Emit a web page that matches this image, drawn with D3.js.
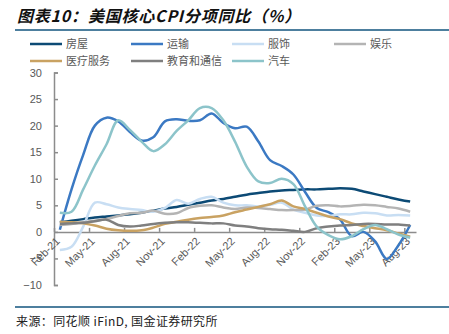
<!DOCTYPE html>
<html>
<head>
<meta charset="utf-8">
<script src="https://cdn.jsdelivr.net/npm/d3@7"></script>
<style>
  body { margin: 0; background: #fff; }
  svg { display: block; }
  text { font-family: "Liberation Sans", Arial, "Noto Sans CJK SC", sans-serif; }
</style>
</head>
<body>
<svg width="449" height="334"></svg>
<script>
// months Feb-21 .. Aug-23
var months = ['Feb-21', 'Mar-21', 'Apr-21', 'May-21', 'Jun-21', 'Jul-21', 'Aug-21', 'Sep-21', 'Oct-21', 'Nov-21',
  'Dec-21', 'Jan-22', 'Feb-22', 'Mar-22', 'Apr-22', 'May-22', 'Jun-22', 'Jul-22', 'Aug-22', 'Sep-22',
  'Oct-22', 'Nov-22', 'Dec-22', 'Jan-23', 'Feb-23', 'Mar-23', 'Apr-23', 'May-23', 'Jun-23', 'Jul-23', 'Aug-23']

var housing = [1.8, 2.1, 2.4, 2.7, 2.9, 3.1, 3.3, 3.6, 4.0, 4.4, 4.7, 5.1, 5.5, 5.9, 6.2, 6.6, 7.0, 7.3, 7.6, 7.8,
  7.9, 8.0, 8.0, 8.1, 8.2, 8.1, 7.6, 7.1, 6.6, 6.1, 5.7]
var transport = [0.4, 8.0, 14.5, 20.0, 21.5, 20.8, 18.8, 17.2, 17.8, 20.8, 21.2, 20.9, 21.0, 22.3, 20.5, 19.5, 19.8, 17.0,
  13.5, 12.4, 10.8, 7.5, 4.5, 3.7, 2.3, -0.8, 0.0, -1.8, -5.1, -2.5, 1.3]
var apparel = [-3.4, -2.8, 1.0, 5.5, 5.2, 4.6, 4.3, 4.1, 3.8, 4.5, 6.0, 5.3, 6.2, 6.6, 5.5, 5.0, 5.0, 4.8, 5.1, 5.5,
  4.2, 3.6, 3.1, 3.0, 3.3, 3.3, 3.6, 3.5, 3.1, 3.2, 3.1]
var recreation = [1.3, 1.5, 1.8, 2.1, 2.4, 3.0, 3.5, 3.6, 4.0, 3.4, 3.5, 4.5, 4.9, 5.0, 4.6, 4.3, 4.6, 4.5, 4.3, 4.1,
  4.1, 4.2, 4.9, 5.0, 4.8, 4.9, 5.1, 5.0, 4.7, 4.4, 3.8]
var medical = [1.9, 1.8, 1.6, 1.2, 0.6, 0.3, 0.2, 0.3, 0.8, 1.5, 1.9, 2.3, 2.6, 2.8, 3.1, 3.7, 4.2, 4.7, 5.2, 5.9,
  4.8, 4.3, 3.6, 2.9, 2.4, 1.6, 1.1, 0.7, 0.3, -0.3, -0.9]
var education = [1.5, 1.6, 1.7, 2.0, 2.3, 1.3, 1.0, 1.2, 1.5, 1.7, 1.8, 1.8, 1.7, 1.6, 1.6, 1.2, 1.0, 0.7, 0.5, 0.4,
  0.2, 0.0, 0.7, 1.0, 1.2, 1.3, 1.5, 1.5, 1.4, 1.4, 1.2]
var cars = [3.6, 3.8, 8.0, 12.5, 16.5, 21.0, 19.2, 17.0, 15.2, 16.5, 19.0, 21.0, 23.3, 23.3, 21.0, 17.0, 12.3, 9.5,
  9.2, 10.0, 9.0, 4.8, 1.0, -0.6, -1.4, -0.8, 0.5, 1.3, 0.5, -0.5, -1.1]

var yTicks = [-10, -5, 0, 5, 10, 15, 20, 25, 30]

var series = [
  { name: '房屋', values: housing, color: '#0c4a75' },
  { name: '运输', values: transport, color: '#3b79c3' },
  { name: '服饰', values: apparel, color: '#c8def3' },
  { name: '娱乐', values: recreation, color: '#b4b4b4' },
  { name: '医疗服务', values: medical, color: '#c9a262' },
  { name: '教育和通信', values: education, color: '#7f7f7f' },
  { name: '汽车', values: cars, color: '#8cc4ca' }
]

var svg = d3.select('svg')

// title
svg.append('text')
    .attr('x', 17)
    .attr('y', 22)
    .attr('font-size', 16)
    .attr('font-weight', 'bold')
    .attr('font-style', 'italic')
    .attr('letter-spacing', 0.8)
    .attr('fill', '#111')
    .style('font-family', '"Noto Sans CJK SC", sans-serif')
    .text('图表10：美国核心CPI分项同比（%）')

svg.append('line')
    .attr('x1', 15).attr('x2', 449)
    .attr('y1', 30).attr('y2', 30)
    .attr('stroke', '#4d7f9e').attr('stroke-width', 2)

svg.append('line')
    .attr('x1', 15).attr('x2', 449)
    .attr('y1', 307).attr('y2', 307)
    .attr('stroke', '#4d7f9e').attr('stroke-width', 2)

svg.append('text')
    .attr('x', 16)
    .attr('y', 326)
    .attr('font-size', 12)
    .attr('letter-spacing', 0.4)
    .attr('fill', '#222')
    .style('font-family', '"Noto Sans CJK SC", sans-serif')
    .text('来源：同花顺 iFinD, 国金证券研究所')

// scales
var xTick = d3.scaleLinear().domain([0, months.length]).range([54, 416])
var y = d3.scaleLinear().domain([-10, 30]).range([285, 72.5])

// y axis
var yAxis = svg.append('g')
    .attr('transform', 'translate(54,0)')
    .call(d3.axisLeft(y).tickValues(yTicks).tickSize(-4).tickPadding(12))
yAxis.select('.domain').attr('stroke', '#8c8c8c').attr('stroke-width', 1.5)
yAxis.selectAll('.tick line').attr('stroke', '#8c8c8c').attr('stroke-width', 1.5)
yAxis.selectAll('text').attr('font-size', 11).attr('fill', '#595959')
    .style('font-family', '"Liberation Sans", Arial, sans-serif')

// x axis at zero
var tickIdx = d3.range(0, months.length, 3)
var xAxis = svg.append('g')
    .attr('transform', 'translate(0,' + y(0) + ')')
    .call(d3.axisBottom(xTick).tickValues(tickIdx).tickSize(-4).tickSizeOuter(0)
      .tickFormat(function (i) { return months[i] }))
xAxis.select('.domain').attr('stroke', '#8c8c8c').attr('stroke-width', 1.5)
xAxis.selectAll('.tick line').attr('stroke', '#8c8c8c').attr('stroke-width', 1.5)
xAxis.selectAll('text')
    .attr('font-size', 11)
    .attr('fill', '#595959')
    .style('font-family', '"Liberation Sans", Arial, sans-serif')
    .attr('text-anchor', 'end')
    .attr('dy', null)
    .attr('y', null)
    .attr('transform', 'translate(6,10) rotate(-45)')

// lines
var line = d3.line()
    .x(function (d, i) { return xTick(i + 0.5) })
    .y(function (d) { return y(d) })
    .curve(d3.curveCatmullRom.alpha(0.5))

svg.append('g')
    .attr('class', 'lines')
  .selectAll('path')
  .data(series)
  .enter().append('path')
    .attr('d', function (d) { return line(d.values) })
    .attr('fill', 'none')
    .attr('stroke', function (d) { return d.color })
    .attr('stroke-width', 2.5)
    .attr('stroke-linejoin', 'round')

// legend
var legendX = [30, 131, 232, 334]
var legend = svg.append('g')
    .attr('class', 'legend')
  .selectAll('g')
  .data(series)
  .enter().append('g')
    .attr('transform', function (d, i) {
      return 'translate(' + legendX[i % 4] + ',' + (44 + Math.floor(i / 4) * 17) + ')'
    })

legend.append('line')
    .attr('x1', 0).attr('x2', 32)
    .attr('stroke', function (d) { return d.color })
    .attr('stroke-width', 2.5)

legend.append('text')
    .attr('x', 36)
    .attr('y', 4)
    .attr('font-size', 11)
    .attr('fill', '#595959')
    .style('font-family', '"Noto Sans CJK SC", sans-serif')
    .text(function (d) { return d.name })
</script>
</body>
</html>
